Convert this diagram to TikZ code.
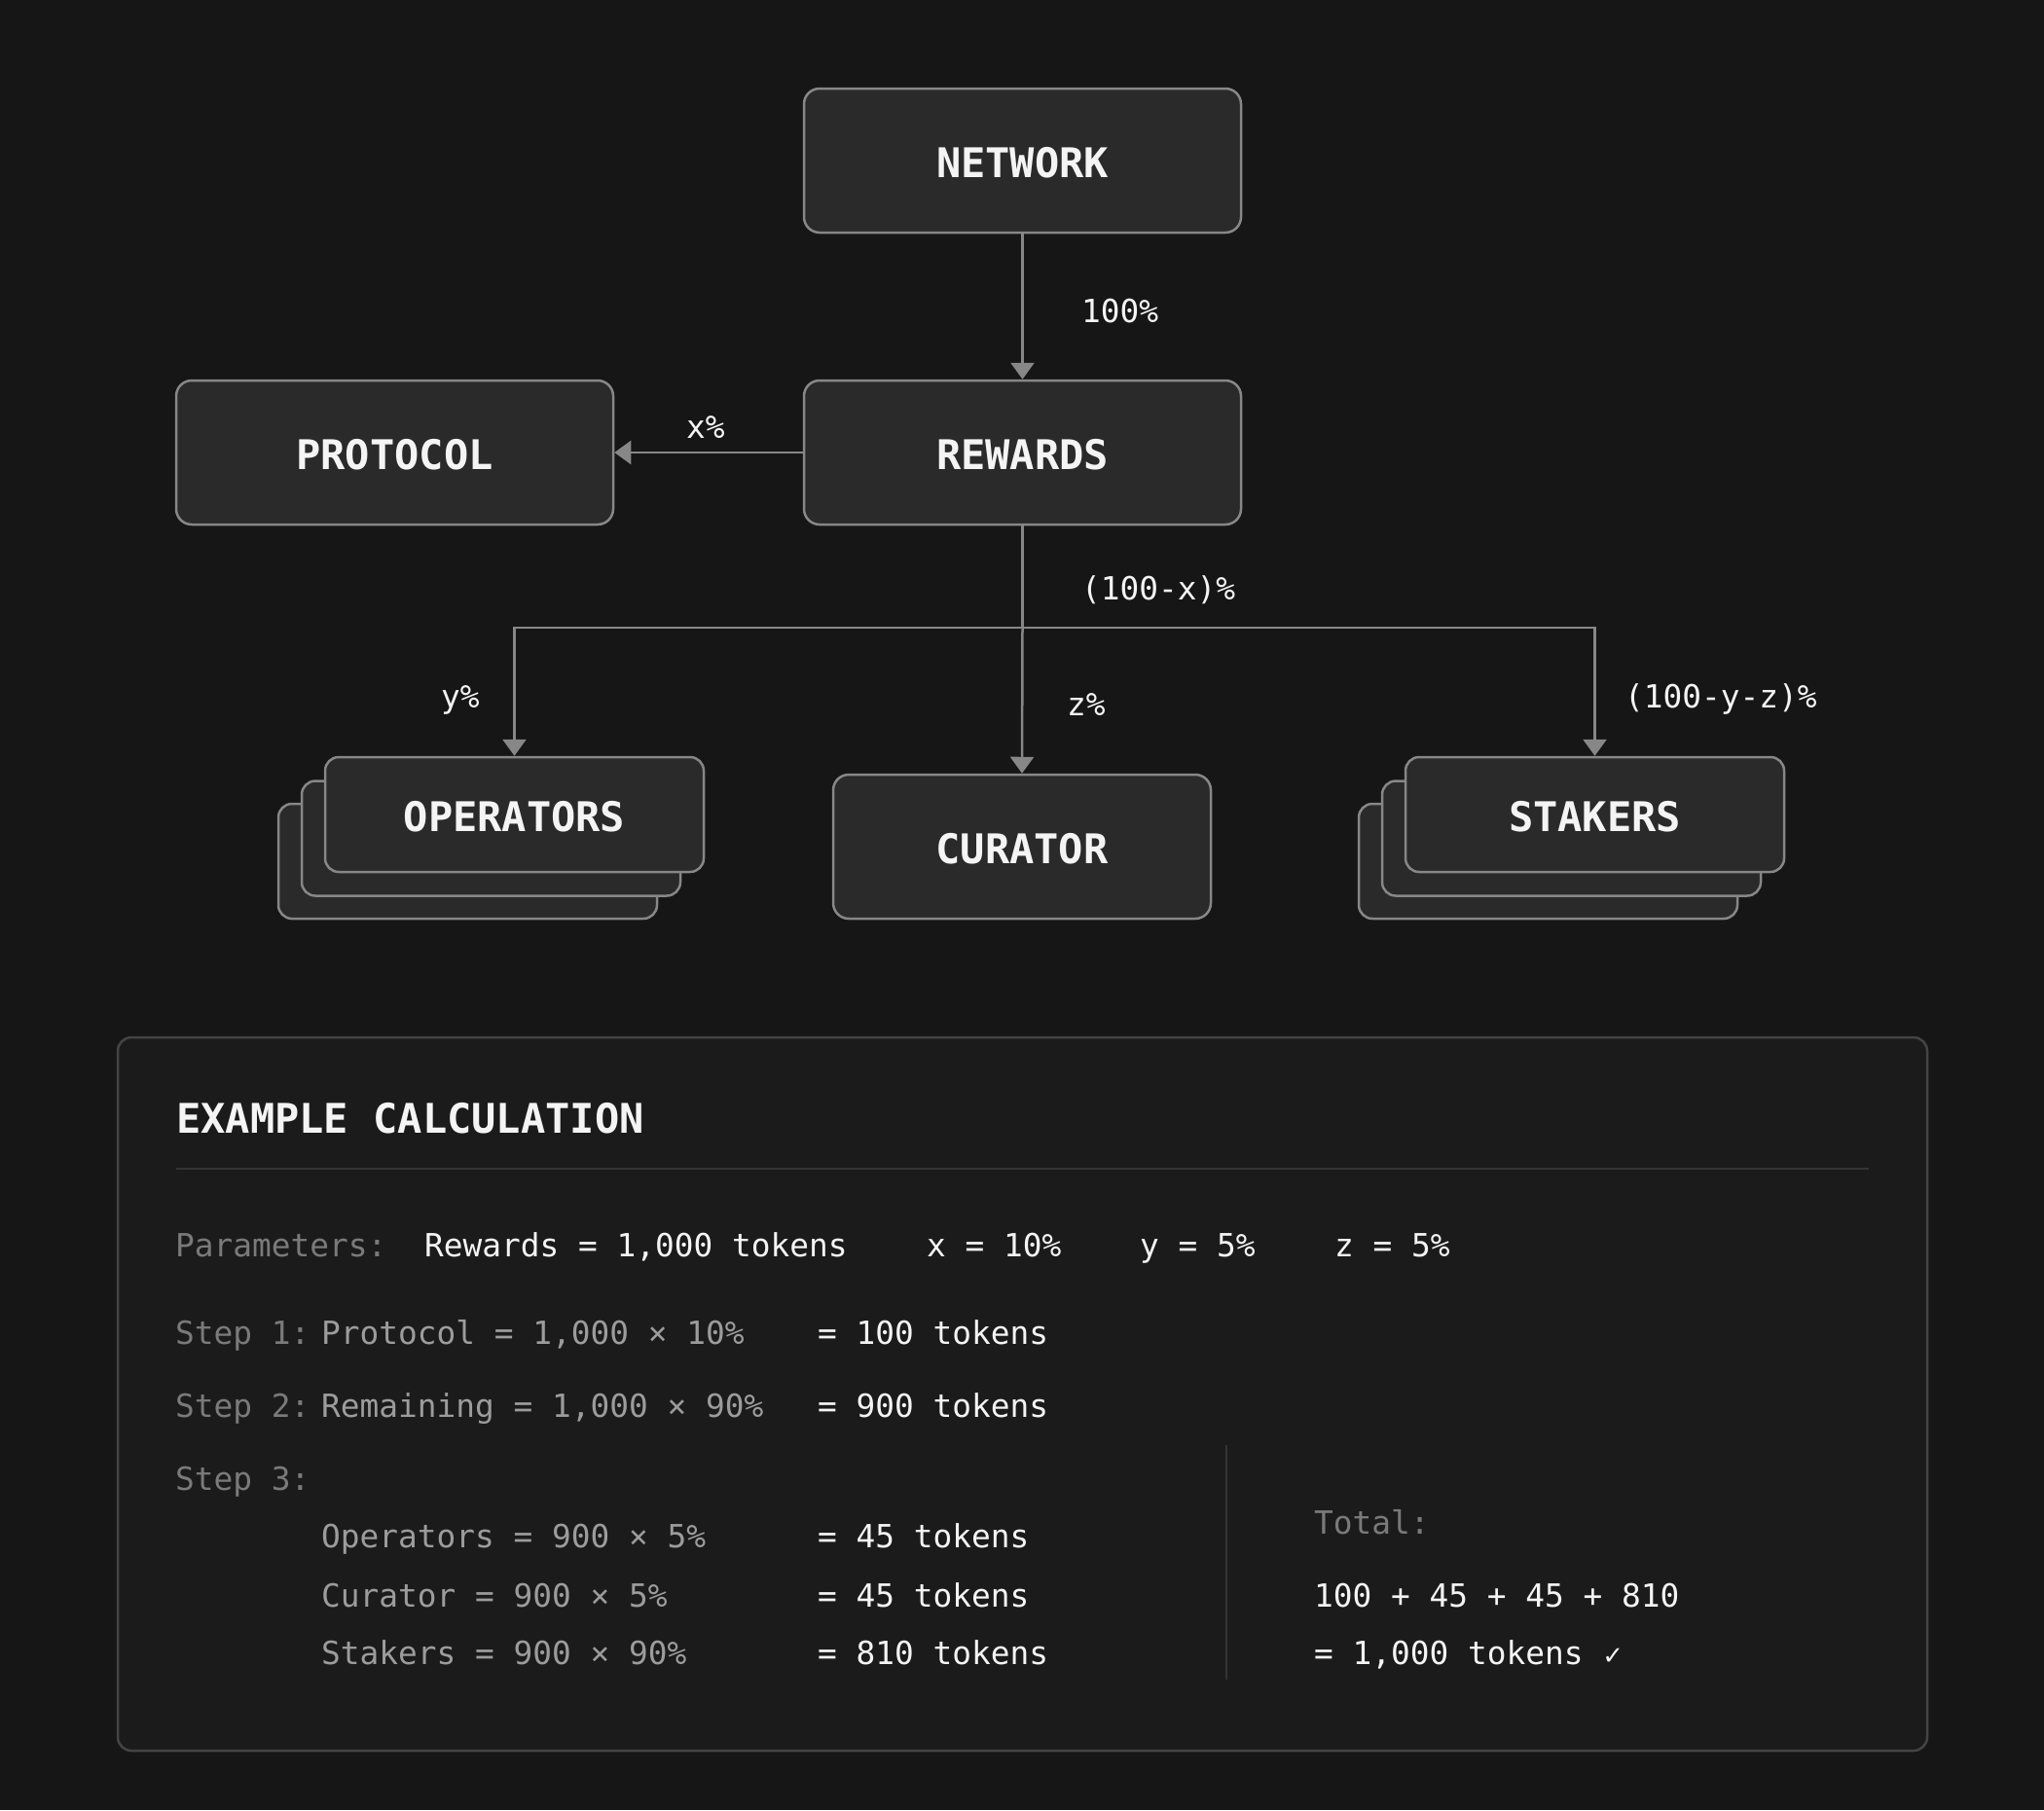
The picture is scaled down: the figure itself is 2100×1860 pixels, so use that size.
\documentclass[tikz,border=0pt]{standalone}
\usepackage{fontspec}
\setmonofont{DejaVu Sans Mono}
\newfontfamily\symfnt{DejaVu Sans}
\usetikzlibrary{arrows.meta}
\definecolor{bgc}{HTML}{161616}
\definecolor{boxc}{HTML}{2A2A2A}
\definecolor{edgec}{HTML}{878787}
\definecolor{panelc}{HTML}{1B1B1B}
\definecolor{panelb}{HTML}{444444}
\definecolor{rulec}{HTML}{343434}
\definecolor{dimc}{HTML}{7A7A7A}
\definecolor{midc}{HTML}{9C9C9C}
\definecolor{brightc}{HTML}{F4F4F4}
\tikzset{
  box/.style={draw=edgec, line width=2.5pt, fill=boxc, rounded corners=16pt, inner sep=0pt,
    text=brightc, text height=34.5pt, text depth=0pt,
    font=\ttfamily\bfseries\fontsize{42}{50}\selectfont},
  card/.style={box, rounded corners=14pt, minimum width=389pt, minimum height=118pt},
  bigbox/.style={box, minimum width=449pt, minimum height=148pt},
  conn/.style={draw=edgec, line width=2.5pt},
  arr/.style={conn, -{Triangle[width=24pt,length=17pt]}},
  lbl/.style={anchor=base west, inner sep=0pt, text=brightc, font=\ttfamily\fontsize{32.8}{40}\selectfont},
  dim/.style={lbl, text=dimc},
  mid/.style={lbl, text=midc},
  title/.style={anchor=base west, inner sep=0pt, text=brightc, font=\ttfamily\bfseries\fontsize{42}{50}\selectfont},
  panel/.style={draw=panelb, line width=2.5pt, fill=panelc, rounded corners=14pt, inner sep=0pt,
    minimum width=1859pt, minimum height=733pt}
}
\begin{document}
\begin{tikzpicture}[x=1pt,y=-1pt]
\fill[bgc] (0,0) rectangle (2100,1860);
\useasboundingbox (0,0) rectangle (2100,1860);

% top boxes
\node[bigbox] (network) at (1050.5,165) {NETWORK};
\node[bigbox] (rewards) at (1050.5,465) {REWARDS};
\node[bigbox] (protocol) at (405.5,465) {PROTOCOL};
\node[box, minimum width=388pt, minimum height=148pt] (curator) at (1050,870) {CURATOR};

% operators stack
\node[card] (opsc) at (480.5,885) {};
\node[card] (opsb) at (504.5,861.5) {};
\node[card] (opsa) at (528.5,837) {OPERATORS};
% stakers stack
\node[card] (stkc) at (1590.5,885) {};
\node[card] (stkb) at (1614.5,861.5) {};
\node[card] (stka) at (1638.5,837) {STAKERS};

% connectors
\coordinate (split) at (1050.5,645);
\draw[arr] (network) -- (rewards);
\draw[arr] (rewards) -- (protocol);
\draw[conn] (rewards.south) -- (split);
\draw[arr] (split) -| (opsa.north);
\draw[arr] (split) -| (stka.north);
\draw[arr] (split) -- (curator.north);

% connector labels
\node[lbl] (l100) at (1111,331) {100\%};
\node[lbl] (lx) at (705,450) {x\%};
\node[lbl] (l100x) at (1111,616) {(100-x)\%};
\node[lbl] (ly) at (453,727) {y\%};
\node[lbl] (lz) at (1096,735) {z\%};
\node[lbl] (lyz) at (1669,727) {(100-y-z)\%};

% example panel
\node[panel] (panel) at (1050.5,1432.5) {};
\node[title] (ttl) at (181,1164) {EXAMPLE CALCULATION};
\draw[draw=rulec, line width=2.5pt] (181,1201) -- (1920,1201);
\draw[draw=rulec, line width=2.5pt] (1260,1485) -- (1260,1726);

\node[dim] (par) at (180,1291) {Parameters:};
\node[lbl] (p1) at (436,1291) {Rewards = 1,000 tokens};
\node[lbl] (p2) at (952,1291) {x = 10\%};
\node[lbl] (p3) at (1171,1291) {y = 5\%};
\node[lbl] (p4) at (1371,1291) {z = 5\%};

\node[dim] (s1) at (180,1381) {Step 1:};
\node[mid] (s1a) at (330,1381) {Protocol = 1,000 × 10\%};
\node[lbl] (s1b) at (840,1381) {= 100 tokens};

\node[dim] (s2) at (180,1456) {Step 2:};
\node[mid] (s2a) at (330,1456) {Remaining = 1,000 × 90\%};
\node[lbl] (s2b) at (840,1456) {= 900 tokens};

\node[dim] (s3) at (180,1531) {Step 3:};
\node[mid] (s3a) at (330,1590) {Operators = 900 × 5\%};
\node[lbl] (s3b) at (840,1590) {= 45 tokens};
\node[mid] (s3c) at (330,1651) {Curator = 900 × 5\%};
\node[lbl] (s3d) at (840,1651) {= 45 tokens};
\node[mid] (s3e) at (330,1710) {Stakers = 900 × 90\%};
\node[lbl] (s3f) at (840,1710) {= 810 tokens};

\node[dim] (tot) at (1350,1576) {Total:};
\node[lbl] (tot1) at (1350,1651) {100 + 45 + 45 + 810};
\node[lbl] (tot2) at (1350,1710) {= 1,000 tokens {\symfnt\fontsize{26}{30}\selectfont ✓}};
\end{tikzpicture}
\end{document}
